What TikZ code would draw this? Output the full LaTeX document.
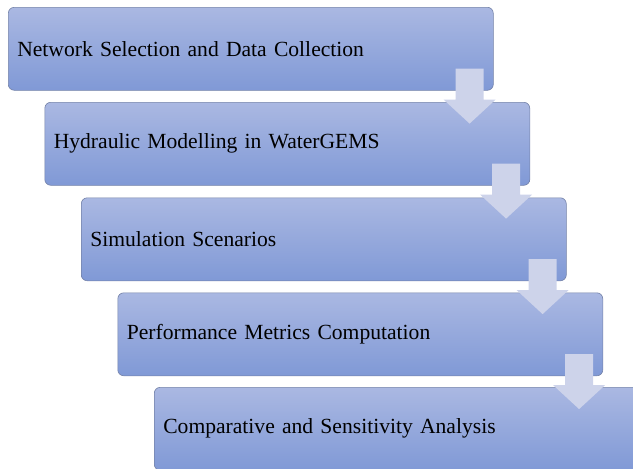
\documentclass[tikz,border=0pt]{standalone}
\usepackage{fontspec}
\setmainfont{Liberation Serif}
\definecolor{boxtop}{HTML}{AAB8E2}
\definecolor{boxbot}{HTML}{8099D6}
\definecolor{boxline}{HTML}{7482A8}
\definecolor{arrowfill}{HTML}{CDD3EA}

\begin{document}
\begin{tikzpicture}[x=1pt,y=-1pt,
    stepbox/.style={draw=boxline, line width=0.6pt, rounded corners=6pt,
      top color=boxtop, bottom color=boxbot,
      minimum width=485pt, minimum height=83pt, text width=467pt,
      inner xsep=9pt, align=left, anchor=north west,
      font=\fontsize{21.6}{24}\selectfont}]
  \useasboundingbox (0,0) rectangle (633,469);
  \clip (0,0) rectangle (633,469);
  % steps, each shifted right and down
  \node[stepbox] (net)  at (8,7)       {Network Selection and Data Collection};
  \node[stepbox] (hyd)  at (44.5,102)  {Hydraulic Modelling in WaterGEMS};
  \node[stepbox] (sim)  at (81,197.5)  {Simulation Scenarios};
  \node[stepbox] (perf) at (117.5,292.5) {Performance Metrics Computation};
  \node[stepbox] (comp) at (154,387)   {Comparative and Sensitivity Analysis};
  % block arrows between the steps
  \foreach \a in {net,hyd,sim,perf}
    \fill[arrowfill] ([shift={(-38,-22)}]\a.south east) -- ++(28,0) -- ++(0,31)
      -- ++(12,0) -- ++(-26,24) -- ++(-26,-24) -- ++(12,0) -- cycle;
\end{tikzpicture}
\end{document}
